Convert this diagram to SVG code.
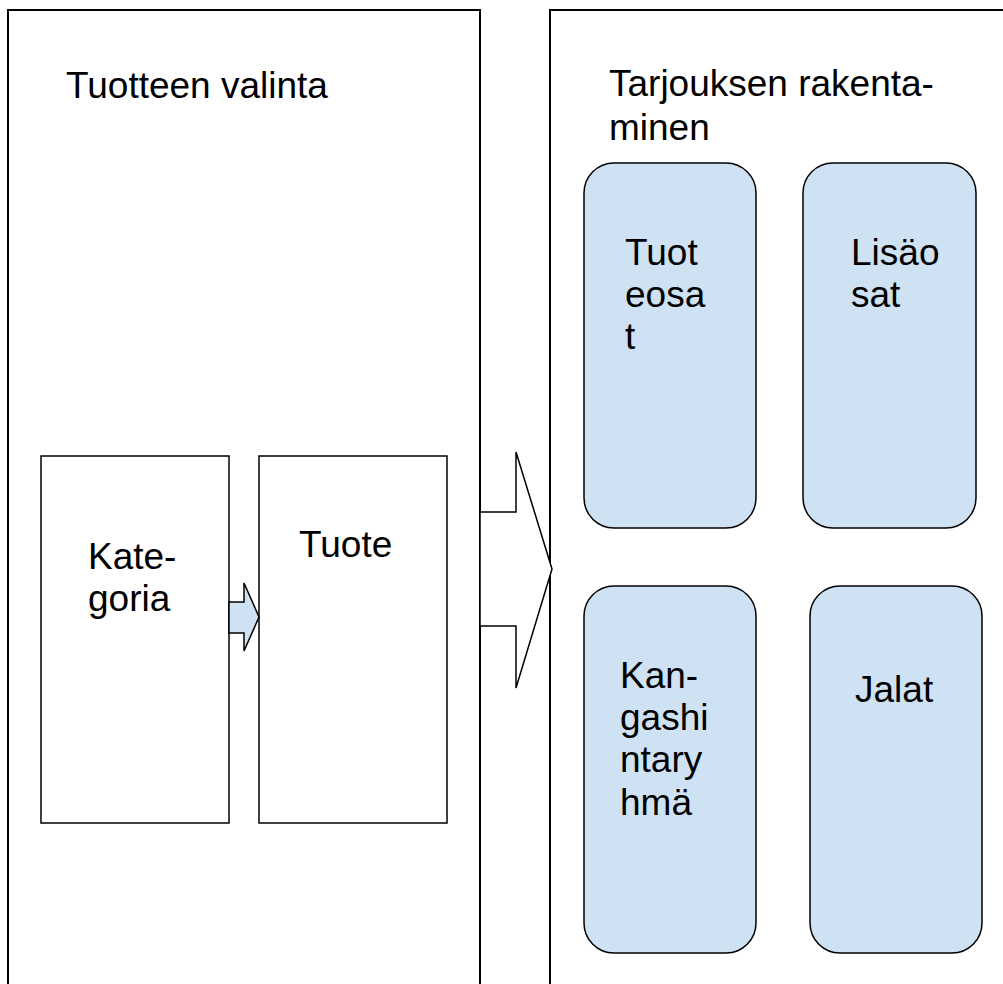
<svg xmlns="http://www.w3.org/2000/svg" width="1003" height="984" viewBox="0 0 1003 984">
<style>
.panel{fill:#ffffff;stroke:#000;stroke-width:2}
.box{fill:#ffffff;stroke:#000;stroke-width:1.5}
.rbox{fill:#cfe2f3;stroke:#000;stroke-width:1.5}
.t{font-family:"Liberation Sans",Arial,sans-serif;font-size:37px;fill:#000}
.arrowBig{fill:#ffffff;stroke:#000;stroke-width:1.5;stroke-linejoin:miter}
.arrowSmall{fill:#cfe2f3;stroke:#000;stroke-width:1.5}
</style>
<rect width="1003" height="984" fill="#ffffff"/>
<g id="panel-left">
<rect class="panel" x="8" y="10" width="472" height="1000"/>
<text class="t" x="66" y="98">Tuotteen valinta</text>
</g>
<g id="panel-right">
<rect class="panel" x="550" y="10" width="480" height="1000"/>
<text class="t" x="609" y="96">Tarjouksen rakenta-</text>
<text class="t" x="609" y="140">minen</text>
</g>
<g id="node-kategoria">
<rect class="box" x="41" y="456" width="188" height="367"/>
<text class="t" x="88" y="569">Kate-</text>
<text class="t" x="88" y="611">goria</text>
</g>
<g id="node-tuote">
<rect class="box" x="259" y="456" width="188" height="367"/>
<text class="t" x="299" y="557">Tuote</text>
</g>
<g id="node-tuoteosat">
<rect class="rbox" x="584" y="163" width="172" height="365" rx="30" ry="30"/>
<text class="t" x="625" y="265">Tuot</text>
<text class="t" x="625" y="307">eosa</text>
<text class="t" x="625" y="349">t</text>
</g>
<g id="node-lisaosat">
<rect class="rbox" x="803" y="163" width="173" height="365" rx="30" ry="30"/>
<text class="t" x="851" y="265">Lisäo</text>
<text class="t" x="851" y="307">sat</text>
</g>
<g id="node-kangashintaryhma">
<rect class="rbox" x="584" y="586" width="172" height="367" rx="30" ry="30"/>
<text class="t" x="620" y="688">Kan-</text>
<text class="t" x="620" y="730">gashi</text>
<text class="t" x="620" y="772">ntary</text>
<text class="t" x="620" y="815">hmä</text>
</g>
<g id="node-jalat">
<rect class="rbox" x="810" y="586" width="172" height="367" rx="30" ry="30"/>
<text class="t" x="855" y="702">Jalat</text>
</g>
<g id="connectors">
<polygon class="arrowSmall" points="229,602 244,602 244,583 259,617 244,651 244,633 229,633"/>
<polygon class="arrowBig" points="480,512 516,512 516,452 552,569 516,688 516,626 480,626"/>
</g>
</svg>
